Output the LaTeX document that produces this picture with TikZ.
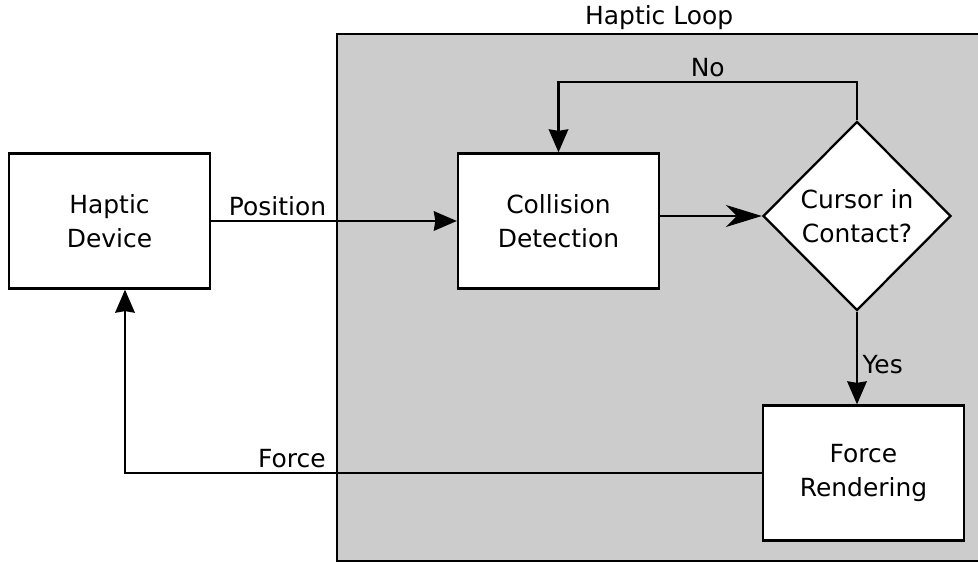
\documentclass[tikz,border=0pt]{standalone}
\usepackage{fontspec}
\setmainfont{DejaVu Sans}
\usetikzlibrary{shapes.geometric}
\usetikzlibrary{arrows.meta}
\usetikzlibrary{positioning}

\begin{document}
\begin{tikzpicture}[
  font=\fontsize{14.2pt}{19.4pt}\selectfont,
  line width=1.3pt,
  block/.style={rectangle,draw,fill=white,minimum width=4.02cm,minimum height=2.7cm,align=center},
  decision/.style={diamond,draw,fill=white,minimum width=3.76cm,minimum height=3.78cm,inner sep=0pt,align=center},
  flow/.style={-{Stealth[length=4.6mm,width=3.9mm,inset=0.3mm]}},
  bigflow/.style={-{Stealth[length=7.2mm,width=4.4mm,inset=2.2mm]}},
  tag/.style={inner sep=2.5pt}]
\useasboundingbox (0,0) rectangle (19.56,11.26);

% shaded area for the loop
\node[draw,fill=black!20,minimum width=12.88cm,minimum height=10.54cm,anchor=south west,inner sep=0pt] (loop) at (6.72,0.02) {};
\node[tag,inner sep=1pt,above=0pt of loop.north] (looptitle) {Haptic Loop};

\node[block] (hd) at (2.19,6.84) {Haptic\\Device};
\node[block] (cd) at (11.17,6.84) {Collision\\Detection};
\node[decision] (ci) at (17.14,6.94) {Cursor in\\Contact?};
\node[block] (fr) at (17.27,1.80) {Force\\Rendering};

\draw[flow] (hd) -- node[tag,above,pos=0.27]{Position} (cd);
\draw[bigflow] (cd.east |- ci.west) -- (ci.west);
\draw[flow] (ci.north) -- ++(0,0.76) -| node[tag,above,pos=0.25]{No} (cd.north);
\draw[flow] (ci.south) -- node[tag,right,pos=0.57]{Yes} (ci.south |- fr.north);

\coordinate (up) at ([xshift=3.1mm]hd.south);
\draw[flow] (fr.west) -- node[tag,above,pos=0.738]{Force} (fr.west -| up) -- (up);
\end{tikzpicture}
\end{document}
